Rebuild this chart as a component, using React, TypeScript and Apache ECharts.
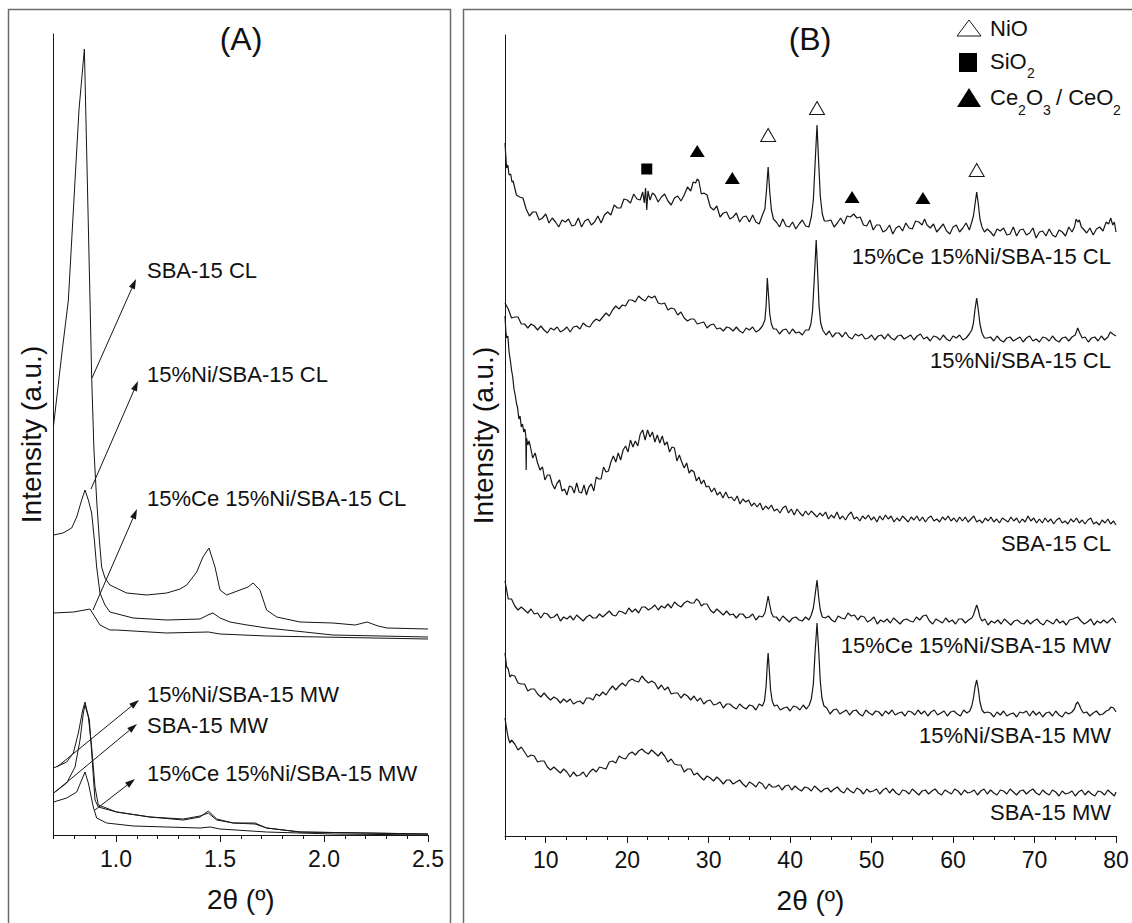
import React, { useEffect, useRef } from "react";
import * as echarts from "echarts";

const FONT = "'Liberation Sans', Arial, Helvetica, sans-serif";
const INK = "#161616";

// ---------- Panel (A): low-angle patterns, 2θ in degrees vs intensity (a.u.) ----------
const A_SBA15_CL: [number, number][] = [
  [0.7, 410], [0.72, 446], [0.74, 482], [0.76, 516], [0.771, 535], [0.797, 632], [0.822, 725],
  [0.848, 786], [0.875, 535], [0.883, 458], [0.894, 385], [0.907, 335], [0.92, 295], [0.931, 268],
  [0.947, 257], [0.971, 250], [1.051, 242], [1.148, 240], [1.244, 242], [1.308, 246], [1.34, 250],
  [1.388, 263], [1.418, 278], [1.447, 287], [1.476, 268], [1.5, 245], [1.532, 240], [1.596, 245],
  [1.635, 248], [1.659, 252], [1.692, 245], [1.724, 225], [1.773, 218], [1.885, 213], [2.043, 212],
  [2.15, 210], [2.207, 213], [2.26, 209], [2.303, 207], [2.5, 206],
];
const A_NI_CL: [number, number][] = [
  [0.7, 300], [0.745, 302], [0.787, 307], [0.811, 318], [0.835, 335], [0.851, 345], [0.867, 335],
  [0.883, 322], [0.896, 295], [0.907, 268], [0.923, 242], [0.947, 230], [0.971, 223], [1.082, 217],
  [1.246, 215], [1.404, 216], [1.442, 220], [1.466, 222], [1.5, 217], [1.548, 213], [1.63, 210],
  [1.726, 207], [2.043, 200], [2.5, 198],
];
const A_CE_NI_CL: [number, number][] = [
  [0.7, 222], [0.796, 223], [0.875, 226], [0.899, 218], [0.923, 210], [0.971, 205], [1.003, 205],
  [1.243, 202], [1.444, 203], [1.5, 201], [1.724, 199], [2.5, 196],
];
const A_NI_MW: [number, number][] = [
  [0.7, 67], [0.763, 73], [0.795, 82], [0.819, 102], [0.84, 125], [0.851, 133], [0.862, 123],
  [0.872, 115], [0.899, 35], [0.915, 28], [1.003, 23], [1.163, 18], [1.324, 15], [1.404, 18],
  [1.444, 24], [1.484, 16], [1.564, 12], [1.668, 12], [1.724, 7], [1.885, 3], [2.205, 2], [2.5, 1],
];
const A_SBA15_MW: [number, number][] = [
  [0.7, 42], [0.763, 52], [0.803, 68], [0.827, 95], [0.843, 122], [0.851, 130], [0.867, 118],
  [0.883, 88], [0.899, 48], [0.915, 30], [1.003, 23], [1.163, 18], [1.324, 16], [1.404, 19],
  [1.444, 22], [1.484, 15], [1.564, 12], [1.668, 11], [1.724, 7], [1.885, 3], [2.205, 2], [2.5, 1],
];
const A_CE_NI_MW: [number, number][] = [
  [0.7, 33], [0.763, 37], [0.811, 43], [0.835, 55], [0.851, 63], [0.867, 52], [0.891, 28],
  [0.907, 17], [0.955, 12], [1.083, 9], [1.243, 8], [1.404, 7], [1.452, 8], [1.5, 6], [1.724, 3],
  [2.045, 1], [2.5, 0],
];

// ---------- Panel (B): wide-angle patterns ----------
const B_CE_NI_CL: [number, number][] = [
  [5.0, 693], [5.1, 680], [5.2, 668], [5.35, 671], [5.5, 661], [5.7, 662], [5.85, 654], [6.0, 655], [6.4, 641], [6.8, 639],
  [7.2, 638], [7.6, 627], [8.0, 620], [8.4, 624], [8.8, 624], [9.2, 616], [9.6, 618], [10.0, 622], [10.4, 613], [10.8, 618],
  [11.2, 614], [11.6, 609], [12.0, 616], [12.4, 614], [12.8, 617], [13.2, 610], [13.6, 611], [14.0, 618], [14.4, 609], [14.8, 615],
  [15.2, 617], [15.6, 611], [16.0, 614], [16.4, 620], [16.8, 613], [17.2, 621], [17.6, 624], [18.0, 621], [18.4, 631], [18.8, 628],
  [19.2, 628], [19.6, 637], [20.0, 636], [20.4, 633], [20.8, 642], [21.2, 637], [21.6, 636], [21.9, 644], [22.1, 633], [22.25, 648],
  [22.4, 626], [22.55, 645], [22.8, 636], [23.1, 643], [23.4, 641], [23.8, 634], [24.2, 639], [24.6, 642], [25.0, 635], [25.4, 631],
  [25.8, 638], [26.2, 640], [26.6, 635], [27.0, 641], [27.4, 649], [27.8, 645], [28.1, 654], [28.4, 653], [28.6, 657], [28.8, 655],
  [29.1, 642], [29.4, 643], [29.8, 641], [30.2, 629], [30.6, 626], [31.0, 630], [31.4, 619], [31.8, 623], [32.2, 624], [32.6, 617],
  [33.0, 619], [33.4, 623], [33.8, 614], [34.2, 619], [34.6, 620], [35.0, 614], [35.4, 621], [35.8, 614], [36.2, 612], [36.6, 621],
  [36.9, 627], [37.1, 646], [37.3, 669], [37.5, 644], [37.7, 626], [37.95, 617], [38.3, 614], [38.7, 609], [39.1, 617], [39.5, 610],
  [39.9, 609], [40.3, 614], [40.7, 607], [41.1, 612], [41.5, 616], [41.9, 610], [42.3, 609], [42.6, 619], [42.85, 636], [43.05, 670],
  [43.3, 711], [43.5, 674], [43.7, 640], [43.95, 622], [44.2, 615], [44.6, 615], [45.0, 616], [45.4, 609], [45.8, 613], [46.2, 618],
  [46.6, 612], [47.0, 620], [47.4, 619], [47.8, 622], [48.2, 618], [48.6, 619], [49.0, 611], [49.4, 610], [49.8, 616], [50.2, 606],
  [50.6, 611], [51.0, 611], [51.4, 604], [51.8, 606], [52.2, 611], [52.6, 602], [53.0, 608], [53.4, 610], [53.8, 605], [54.2, 613],
  [54.6, 608], [55.0, 607], [55.4, 615], [55.8, 614], [56.2, 611], [56.5, 617], [56.8, 611], [57.2, 608], [57.6, 612], [58.0, 604],
  [58.4, 608], [58.8, 612], [59.2, 605], [59.6, 602], [60.0, 609], [60.4, 611], [60.8, 604], [61.2, 608], [61.6, 613], [62.0, 606],
  [62.3, 614], [62.5, 620], [62.7, 632], [62.9, 644], [63.1, 632], [63.3, 617], [63.55, 609], [63.85, 604], [64.2, 607], [64.6, 604],
  [65.0, 600], [65.4, 607], [65.8, 605], [66.2, 608], [66.6, 601], [67.0, 602], [67.4, 609], [67.8, 600], [68.2, 606], [68.6, 607],
  [69.0, 601], [69.4, 603], [69.8, 608], [70.2, 598], [70.6, 604], [71.0, 605], [71.4, 600], [71.8, 607], [72.2, 601], [72.6, 599],
  [73.0, 606], [73.4, 604], [73.8, 600], [74.2, 609], [74.6, 604], [74.9, 609], [75.1, 617], [75.3, 614], [75.5, 616], [75.75, 609],
  [76.0, 607], [76.4, 603], [76.8, 608], [77.2, 601], [77.6, 607], [78.0, 609], [78.4, 605], [78.8, 614], [79.1, 612], [79.35, 618],
  [79.6, 611], [79.8, 614], [80.0, 604],
];
const B_NI_CL: [number, number][] = [
  [5.0, 533], [5.4, 527], [5.8, 518], [6.2, 519], [6.6, 519], [7.0, 512], [7.4, 512], [7.8, 508], [8.2, 512], [8.6, 510],
  [9.0, 506], [9.4, 510], [9.8, 506], [10.2, 503], [10.6, 508], [11.0, 506], [11.4, 509], [11.8, 504], [12.2, 506], [12.6, 509],
  [13.0, 504], [13.4, 509], [13.8, 510], [14.2, 507], [14.6, 513], [15.0, 510], [15.4, 509], [15.8, 514], [16.2, 517], [16.6, 515],
  [17.0, 519], [17.4, 523], [17.8, 520], [18.2, 526], [18.6, 530], [19.0, 527], [19.4, 531], [19.8, 530], [20.2, 536], [20.6, 536],
  [21.0, 534], [21.4, 540], [21.8, 537], [22.2, 535], [22.6, 540], [23.0, 538], [23.4, 540], [23.8, 533], [24.2, 532], [24.6, 533],
  [25.0, 526], [25.4, 528], [25.8, 527], [26.2, 521], [26.6, 524], [27.0, 518], [27.4, 515], [27.8, 517], [28.2, 517], [28.6, 512],
  [29.0, 513], [29.4, 514], [29.8, 508], [30.2, 511], [30.6, 512], [31.0, 507], [31.4, 508], [31.8, 505], [32.2, 509], [32.6, 508],
  [33.0, 505], [33.4, 509], [33.8, 505], [34.2, 503], [34.6, 508], [35.0, 506], [35.4, 509], [35.8, 504], [36.2, 506], [36.6, 510],
  [36.9, 516], [37.05, 530], [37.2, 558], [37.35, 540], [37.5, 522], [37.7, 512], [37.95, 507], [38.3, 507], [38.7, 502], [39.1, 506],
  [39.5, 507], [39.9, 502], [40.3, 507], [40.7, 503], [41.1, 504], [41.5, 501], [41.9, 506], [42.3, 506], [42.55, 512], [42.75, 525],
  [42.95, 555], [43.2, 596], [43.4, 560], [43.55, 530], [43.75, 513], [44.0, 506], [44.4, 501], [44.8, 505], [45.2, 499], [45.6, 503],
  [46.0, 503], [46.4, 499], [46.8, 504], [47.2, 499], [47.6, 497], [48.0, 502], [48.4, 500], [48.8, 502], [49.2, 497], [49.6, 498],
  [50.0, 501], [50.4, 496], [50.8, 500], [51.2, 501], [51.6, 497], [52.0, 502], [52.4, 498], [52.8, 496], [53.2, 500], [53.6, 501],
  [54.0, 497], [54.4, 499], [54.8, 501], [55.2, 496], [55.6, 500], [56.0, 502], [56.4, 497], [56.8, 499], [57.2, 495], [57.6, 500],
  [58.0, 499], [58.4, 496], [58.8, 501], [59.2, 497], [59.6, 495], [60.0, 500], [60.4, 498], [60.8, 501], [61.2, 496], [61.6, 498],
  [62.0, 502], [62.3, 506], [62.5, 513], [62.7, 527], [62.9, 538], [63.1, 526], [63.3, 512], [63.55, 503], [63.85, 498], [64.2, 498],
  [64.6, 499], [65.0, 495], [65.4, 500], [65.8, 496], [66.2, 494], [66.6, 498], [67.0, 499], [67.4, 495], [67.8, 497], [68.2, 499],
  [68.6, 494], [69.0, 498], [69.4, 500], [69.8, 495], [70.2, 497], [70.6, 494], [71.0, 499], [71.4, 498], [71.8, 495], [72.2, 500],
  [72.6, 496], [73.0, 494], [73.4, 498], [73.8, 499], [74.2, 495], [74.6, 499], [75.0, 501], [75.3, 508], [75.55, 503], [75.85, 498],
  [76.2, 499], [76.6, 494], [77.0, 498], [77.4, 499], [77.8, 495], [78.2, 500], [78.6, 496], [79.0, 499], [79.3, 504], [79.6, 502],
  [80.0, 500],
];
const B_SBA15_CL: [number, number][] = [
  [5.0, 520], [5.1, 505], [5.2, 498], [5.35, 500], [5.5, 484], [5.65, 476], [5.8, 466], [5.95, 459], [6.1, 447], [6.25, 441],
  [6.4, 433], [6.55, 428], [6.7, 417], [6.85, 420], [7.0, 409], [7.15, 412], [7.3, 404], [7.45, 407], [7.55, 400], [7.6, 366],
  [7.65, 398], [7.8, 391], [7.95, 395], [8.1, 390], [8.4, 378], [8.7, 383], [9.0, 373], [9.3, 366], [9.6, 369], [9.9, 356],
  [10.2, 361], [10.5, 361], [10.8, 352], [11.1, 347], [11.4, 353], [11.7, 356], [12.0, 345], [12.3, 347], [12.6, 341], [12.9, 350],
  [13.2, 349], [13.5, 343], [13.8, 353], [14.1, 344], [14.4, 343], [14.7, 351], [15.0, 341], [15.3, 349], [15.6, 352], [15.9, 345],
  [16.2, 359], [16.5, 357], [16.8, 357], [17.1, 369], [17.4, 364], [17.7, 365], [18.0, 374], [18.3, 380], [18.6, 374], [18.9, 383],
  [19.2, 376], [19.5, 386], [19.8, 390], [20.1, 384], [20.4, 396], [20.7, 389], [21.0, 395], [21.3, 390], [21.6, 402], [21.9, 406],
  [22.2, 396], [22.5, 406], [22.8, 399], [23.1, 404], [23.4, 394], [23.7, 401], [24.0, 393], [24.3, 400], [24.6, 391], [24.9, 394],
  [25.2, 384], [25.5, 389], [25.8, 388], [26.1, 375], [26.4, 381], [26.7, 374], [27.0, 368], [27.3, 373], [27.6, 363], [27.9, 366],
  [28.2, 364], [28.5, 355], [28.8, 359], [29.1, 352], [29.4, 356], [29.7, 349], [30.0, 350], [30.35, 344], [30.7, 348], [31.05, 341],
  [31.4, 344], [31.75, 338], [32.1, 344], [32.45, 338], [32.8, 339], [33.15, 335], [33.5, 340], [33.85, 332], [34.2, 337], [34.55, 334],
  [34.9, 336], [35.25, 330], [35.6, 333], [35.95, 329], [36.3, 333], [36.65, 326], [37.0, 330], [37.35, 327], [37.7, 331], [38.05, 325],
  [38.4, 327], [38.75, 323], [39.1, 328], [39.45, 330], [39.8, 323], [40.15, 327], [40.5, 321], [40.85, 327], [41.2, 323], [41.55, 320],
  [41.9, 325], [42.25, 321], [42.6, 325], [42.95, 322], [43.3, 319], [43.65, 323], [44.0, 320], [44.35, 324], [44.7, 317], [45.05, 321],
  [45.4, 318], [45.75, 324], [46.1, 317], [46.45, 320], [46.8, 316], [47.15, 321], [47.5, 324], [47.85, 317], [48.2, 319], [48.55, 315],
  [48.9, 320], [49.25, 317], [49.6, 321], [49.95, 316], [50.3, 319], [50.65, 314], [51.0, 320], [51.35, 316], [51.7, 321], [52.05, 317],
  [52.4, 320], [52.75, 314], [53.1, 318], [53.45, 315], [53.8, 320], [54.15, 317], [54.5, 314], [54.85, 319], [55.2, 316], [55.55, 320],
  [55.9, 315], [56.25, 319], [56.6, 314], [56.95, 318], [57.3, 320], [57.65, 315], [58.0, 317], [58.35, 314], [58.7, 319], [59.05, 316],
  [59.4, 320], [59.75, 315], [60.1, 318], [60.45, 314], [60.8, 319], [61.15, 315], [61.5, 319], [61.85, 314], [62.2, 317], [62.55, 320],
  [62.9, 314], [63.25, 316], [63.6, 313], [63.95, 318], [64.3, 315], [64.65, 319], [65.0, 314], [65.35, 317], [65.7, 313], [66.05, 318],
  [66.4, 316], [66.75, 314], [67.1, 319], [67.45, 315], [67.8, 318], [68.15, 313], [68.5, 317], [68.85, 314], [69.2, 320], [69.55, 315],
  [69.9, 318], [70.25, 313], [70.6, 317], [70.95, 313], [71.3, 318], [71.65, 314], [72.0, 317], [72.35, 312], [72.7, 316], [73.05, 318],
  [73.4, 313], [73.75, 315], [74.1, 312], [74.45, 317], [74.8, 314], [75.15, 318], [75.5, 313], [75.85, 316], [76.2, 312], [76.55, 316],
  [76.9, 318], [77.25, 312], [77.6, 314], [77.95, 311], [78.3, 316], [78.65, 313], [79.0, 317], [79.35, 312], [79.7, 315], [80.0, 311],
];
const B_CE_NI_MW: [number, number][] = [
  [5.0, 255], [5.2, 246], [5.4, 237], [5.6, 237], [5.8, 237], [6.2, 230], [6.6, 226], [7.0, 229], [7.4, 226], [7.8, 223],
  [8.2, 227], [8.6, 222], [9.0, 223], [9.4, 218], [9.8, 223], [10.2, 222], [10.6, 218], [11.0, 219], [11.4, 222], [11.8, 215],
  [12.2, 219], [12.6, 217], [13.0, 220], [13.4, 216], [13.8, 221], [14.2, 218], [14.6, 215], [15.0, 219], [15.4, 221], [15.8, 218],
  [16.2, 218], [16.6, 222], [17.0, 219], [17.4, 222], [17.8, 225], [18.2, 221], [18.6, 220], [19.0, 225], [19.4, 224], [19.8, 222],
  [20.2, 228], [20.6, 224], [21.0, 227], [21.4, 223], [21.8, 229], [22.2, 229], [22.6, 226], [23.0, 228], [23.4, 231], [23.8, 226],
  [24.2, 230], [24.6, 228], [25.0, 232], [25.4, 228], [25.8, 234], [26.2, 231], [26.6, 229], [27.0, 233], [27.4, 235], [27.8, 233],
  [28.2, 233], [28.5, 237], [28.8, 235], [29.1, 230], [29.4, 232], [29.8, 232], [30.2, 226], [30.6, 223], [31.0, 227], [31.4, 224],
  [31.8, 221], [32.2, 225], [32.6, 221], [33.0, 222], [33.4, 218], [33.8, 222], [34.2, 222], [34.6, 218], [35.0, 219], [35.4, 222],
  [35.8, 216], [36.2, 220], [36.6, 219], [36.9, 223], [37.1, 231], [37.3, 240], [37.5, 231], [37.7, 223], [37.95, 219], [38.3, 219],
  [38.7, 215], [39.1, 220], [39.5, 217], [39.9, 214], [40.3, 218], [40.7, 219], [41.1, 216], [41.5, 215], [41.9, 219], [42.3, 216],
  [42.6, 221], [42.85, 228], [43.05, 240], [43.3, 256], [43.5, 239], [43.7, 226], [43.95, 219], [44.3, 218], [44.7, 220], [45.1, 216],
  [45.5, 214], [45.9, 220], [46.3, 218], [46.7, 217], [47.1, 223], [47.5, 220], [47.9, 221], [48.3, 216], [48.7, 220], [49.1, 219],
  [49.5, 214], [49.9, 216], [50.3, 219], [50.7, 212], [51.1, 216], [51.5, 214], [51.9, 217], [52.3, 213], [52.7, 218], [53.1, 215],
  [53.5, 212], [53.9, 216], [54.3, 217], [54.7, 215], [55.1, 214], [55.5, 219], [55.9, 216], [56.3, 220], [56.7, 221], [57.1, 215],
  [57.5, 212], [57.9, 217], [58.3, 215], [58.7, 213], [59.1, 218], [59.5, 214], [59.9, 216], [60.3, 212], [60.7, 217], [61.1, 217],
  [61.5, 213], [61.9, 216], [62.3, 218], [62.5, 221], [62.7, 226], [62.9, 231], [63.1, 226], [63.3, 219], [63.55, 215], [63.9, 217],
  [64.3, 211], [64.7, 215], [65.1, 213], [65.5, 216], [65.9, 212], [66.3, 217], [66.7, 214], [67.1, 211], [67.5, 215], [67.9, 216],
  [68.3, 213], [68.7, 212], [69.1, 216], [69.5, 212], [69.9, 215], [70.3, 217], [70.7, 213], [71.1, 211], [71.5, 216], [71.9, 214],
  [72.3, 212], [72.7, 217], [73.1, 213], [73.5, 215], [73.9, 211], [74.3, 216], [74.7, 217], [75.3, 219], [75.7, 215], [76.1, 212],
  [76.5, 214], [76.9, 217], [77.3, 211], [77.7, 215], [78.1, 213], [78.5, 216], [78.9, 213], [79.3, 216], [79.6, 218], [80.0, 213],
];
const B_NI_MW: [number, number][] = [
  [5.0, 183], [5.2, 169], [5.4, 167], [5.6, 159], [5.8, 161], [6.2, 160], [6.6, 153], [7.0, 152], [7.4, 152], [7.8, 145],
  [8.2, 147], [8.6, 147], [9.0, 142], [9.4, 139], [9.8, 143], [10.2, 139], [10.6, 136], [11.0, 139], [11.4, 137], [11.8, 133],
  [12.2, 137], [12.6, 134], [13.0, 137], [13.4, 132], [13.8, 134], [14.2, 135], [14.6, 132], [15.0, 138], [15.4, 138], [15.8, 136],
  [16.2, 142], [16.6, 140], [17.0, 144], [17.4, 141], [17.8, 146], [18.2, 150], [18.6, 146], [19.0, 150], [19.4, 153], [19.8, 150],
  [20.2, 155], [20.6, 157], [21.0, 155], [21.4, 154], [21.8, 160], [22.2, 156], [22.6, 153], [23.0, 155], [23.4, 153], [23.8, 147],
  [24.2, 151], [24.6, 146], [25.0, 149], [25.4, 142], [25.8, 143], [26.2, 143], [26.6, 138], [27.0, 142], [27.4, 140], [27.8, 136],
  [28.2, 140], [28.6, 135], [29.0, 138], [29.4, 132], [29.8, 135], [30.2, 136], [30.6, 131], [31.0, 132], [31.4, 134], [31.8, 128],
  [32.2, 132], [32.6, 132], [33.0, 129], [33.4, 127], [33.8, 132], [34.2, 129], [34.6, 127], [35.0, 131], [35.4, 130], [35.8, 126],
  [36.2, 132], [36.6, 130], [36.85, 135], [37.05, 150], [37.2, 172], [37.3, 183], [37.45, 165], [37.6, 146], [37.8, 135], [38.05, 130],
  [38.4, 131], [38.8, 126], [39.2, 128], [39.6, 129], [40.0, 125], [40.4, 130], [40.8, 129], [41.2, 126], [41.6, 131], [42.0, 127],
  [42.35, 131], [42.6, 137], [42.85, 152], [43.05, 182], [43.3, 213], [43.5, 186], [43.7, 155], [43.9, 138], [44.15, 130], [44.5, 128],
  [44.9, 122], [45.3, 126], [45.7, 127], [46.1, 122], [46.5, 124], [46.9, 126], [47.3, 121], [47.7, 125], [48.1, 126], [48.5, 122],
  [48.9, 120], [49.3, 126], [49.7, 123], [50.1, 121], [50.5, 125], [50.9, 124], [51.3, 120], [51.7, 125], [52.1, 122], [52.5, 126],
  [52.9, 121], [53.3, 123], [53.7, 124], [54.1, 120], [54.5, 125], [54.9, 124], [55.3, 121], [55.7, 126], [56.1, 122], [56.5, 125],
  [56.9, 120], [57.3, 124], [57.7, 126], [58.1, 121], [58.5, 123], [58.9, 125], [59.3, 120], [59.7, 124], [60.1, 125], [60.5, 122],
  [60.9, 120], [61.3, 126], [61.7, 123], [62.05, 125], [62.3, 130], [62.5, 138], [62.7, 149], [62.9, 156], [63.1, 147], [63.3, 134],
  [63.55, 126], [63.85, 123], [64.2, 124], [64.6, 123], [65.0, 119], [65.4, 124], [65.8, 121], [66.2, 125], [66.6, 120], [67.0, 122],
  [67.4, 123], [67.8, 119], [68.2, 124], [68.6, 123], [69.0, 125], [69.4, 120], [69.8, 125], [70.2, 121], [70.6, 124], [71.0, 119],
  [71.4, 123], [71.8, 124], [72.2, 120], [72.6, 125], [73.0, 121], [73.4, 119], [73.8, 124], [74.2, 122], [74.6, 124], [74.9, 127],
  [75.1, 132], [75.3, 134], [75.5, 131], [75.7, 127], [76.0, 123], [76.4, 124], [76.8, 120], [77.2, 123], [77.6, 125], [78.0, 121],
  [78.4, 122], [78.8, 125], [79.1, 126], [79.4, 129], [79.7, 128], [80.0, 124],
];
const B_SBA15_MW: [number, number][] = [
  [5.0, 118], [5.2, 107], [5.4, 98], [5.6, 93], [5.8, 96], [6.2, 92], [6.6, 86], [7.0, 89], [7.4, 84], [7.8, 79],
  [8.2, 81], [8.6, 80], [9.0, 74], [9.4, 75], [9.8, 75], [10.2, 69], [10.6, 66], [11.0, 69], [11.4, 66], [11.8, 63],
  [12.2, 67], [12.6, 64], [13.0, 59], [13.4, 64], [13.8, 60], [14.2, 61], [14.6, 64], [15.0, 59], [15.4, 64], [15.8, 67],
  [16.2, 64], [16.6, 69], [17.0, 68], [17.4, 67], [17.8, 74], [18.2, 75], [18.6, 73], [19.0, 80], [19.4, 78], [19.8, 77],
  [20.2, 82], [20.6, 84], [21.0, 81], [21.4, 85], [21.8, 87], [22.2, 84], [22.6, 82], [23.0, 86], [23.4, 83], [23.8, 80],
  [24.2, 84], [24.6, 80], [25.0, 74], [25.4, 77], [25.8, 72], [26.2, 71], [26.6, 71], [27.0, 64], [27.4, 67], [27.8, 67],
  [28.2, 61], [28.6, 63], [29.0, 59], [29.4, 56], [29.8, 60], [30.2, 58], [30.6, 55], [31.0, 59], [31.4, 56], [31.8, 52],
  [32.2, 56], [32.6, 56], [33.0, 52], [33.4, 54], [33.8, 56], [34.2, 52], [34.6, 49], [35.0, 54], [35.4, 52], [35.8, 49],
  [36.2, 54], [36.6, 52], [37.0, 47], [37.4, 52], [37.8, 49], [38.2, 49], [38.6, 51], [39.0, 46], [39.4, 50], [39.8, 51],
  [40.2, 46], [40.6, 50], [41.0, 47], [41.4, 45], [41.8, 49], [42.2, 48], [42.6, 45], [43.0, 50], [43.4, 47], [43.8, 44],
  [44.2, 47], [44.6, 48], [45.0, 44], [45.4, 47], [45.8, 49], [46.2, 45], [46.6, 43], [47.0, 48], [47.4, 45], [47.8, 43],
  [48.2, 48], [48.6, 46], [49.0, 42], [49.4, 47], [49.8, 44], [50.2, 45], [50.6, 47], [51.0, 42], [51.4, 46], [51.8, 48],
  [52.2, 43], [52.6, 47], [53.0, 43], [53.4, 41], [53.8, 46], [54.2, 45], [54.6, 42], [55.0, 47], [55.4, 44], [55.8, 41],
  [56.2, 45], [56.6, 46], [57.0, 42], [57.4, 45], [57.8, 47], [58.2, 43], [58.6, 41], [59.0, 46], [59.4, 44], [59.8, 42],
  [60.2, 47], [60.6, 45], [61.0, 41], [61.4, 46], [61.8, 43], [62.2, 44], [62.6, 46], [63.0, 41], [63.4, 45], [63.8, 47],
  [64.2, 42], [64.6, 46], [65.0, 43], [65.4, 41], [65.8, 46], [66.2, 45], [66.6, 42], [67.0, 47], [67.4, 44], [67.8, 41],
  [68.2, 45], [68.6, 46], [69.0, 42], [69.4, 45], [69.8, 47], [70.2, 43], [70.6, 41], [71.0, 46], [71.4, 43], [71.8, 41],
  [72.2, 46], [72.6, 44], [73.0, 40], [73.4, 45], [73.8, 42], [74.2, 43], [74.6, 45], [75.0, 40], [75.4, 44], [75.8, 46],
  [76.2, 41], [76.6, 45], [77.0, 42], [77.4, 40], [77.8, 45], [78.2, 44], [78.6, 41], [79.0, 46], [79.4, 43], [79.8, 40],
  [80.0, 44],
];

// Phase markers placed above the reflections of the Ce-containing CL sample
const NIO_MARKS: [number, number][] = [[37.3, 701], [43.3, 728], [62.9, 666]];
const SIO2_MARKS: [number, number][] = [[22.4, 667]];
const CEOX_MARKS: [number, number][] = [[28.6, 685], [32.9, 658], [47.6, 639], [56.3, 638]];

// Tick positions
const A_MAJOR = [1.0, 1.5, 2.0, 2.5];
const A_MINOR = [0.7, 0.8, 0.9, 1.1, 1.2, 1.3, 1.4, 1.6, 1.7, 1.8, 1.9, 2.1, 2.2, 2.3, 2.4];
const B_MAJOR = [10, 20, 30, 40, 50, 60, 70, 80];
const B_MINOR = [5, 7.5, 12.5, 15, 17.5, 22.5, 25, 27.5, 32.5, 35, 37.5, 42.5, 45, 47.5, 52.5, 55, 57.5, 62.5, 65, 67.5, 72.5, 75, 77.5];

// Sample names
const A_LABELS: { text: string; y: number }[] = [
  { text: "SBA-15 CL", y: 270 },
  { text: "15%Ni/SBA-15 CL", y: 374 },
  { text: "15%Ce 15%Ni/SBA-15 CL", y: 498 },
  { text: "15%Ni/SBA-15 MW", y: 694 },
  { text: "SBA-15 MW", y: 725 },
  { text: "15%Ce 15%Ni/SBA-15 MW", y: 773 },
];
const A_ARROWS: [number, number, number, number][] = [
  [92, 378, 136, 279],
  [91, 489, 138, 381],
  [93, 610, 137, 509],
  [57, 767, 139, 700],
  [55, 792, 137, 724],
  [95, 810, 135, 779],
];
const B_LABELS: { text: string; y: number }[] = [
  { text: "15%Ce 15%Ni/SBA-15 CL", y: 256 },
  { text: "15%Ni/SBA-15 CL", y: 360 },
  { text: "SBA-15 CL", y: 543 },
  { text: "15%Ce 15%Ni/SBA-15 MW", y: 645 },
  { text: "15%Ni/SBA-15 MW", y: 735 },
  { text: "SBA-15 MW", y: 812 },
];

function arrow(x1: number, y1: number, x2: number, y2: number) {
  const dx = x2 - x1;
  const dy = y2 - y1;
  const len = Math.sqrt(dx * dx + dy * dy);
  const ux = dx / len;
  const uy = dy / len;
  const hl = 10;
  const hw = 3.2;
  const bx = x2 - ux * hl;
  const by = y2 - uy * hl;
  return [
    {
      type: "line",
      silent: true,
      shape: { x1, y1, x2: bx, y2: by },
      style: { stroke: INK, lineWidth: 1 },
    },
    {
      type: "polygon",
      silent: true,
      shape: {
        points: [
          [x2, y2],
          [bx - uy * hw, by + ux * hw],
          [bx + uy * hw, by - ux * hw],
        ],
      },
      style: { fill: INK },
    },
  ];
}

function text(t: string, x: number, y: number, size: number, align = "left") {
  return {
    type: "text",
    silent: true,
    x,
    y,
    style: {
      text: t,
      fontSize: size,
      fontFamily: FONT,
      fill: "#111",
      align,
      verticalAlign: "middle",
    },
  };
}

function lineSeries(data: [number, number][], xi: number, yi: number, width: number) {
  return {
    type: "line",
    xAxisIndex: xi,
    yAxisIndex: yi,
    data,
    symbol: "none",
    silent: true,
    lineStyle: { color: INK, width },
  };
}

const tickAxis = (gridIndex: number, min: number, max: number, values: number[]) => ({
  gridIndex,
  type: "value",
  min,
  max,
  position: "bottom",
  axisLine: { show: false },
  axisTick: { show: true, customValues: values, length: 4, lineStyle: { color: INK, width: 1 } },
  axisLabel: { show: false },
  splitLine: { show: false },
});

const mainAxis = (
  gridIndex: number,
  min: number,
  max: number,
  values: number[],
  fmt: (v: number) => string
) => ({
  gridIndex,
  type: "value",
  min,
  max,
  position: "bottom",
  name: "2θ (º)",
  nameLocation: "middle",
  nameGap: 50,
  nameTextStyle: { fontSize: 28, fontFamily: FONT, color: "#111" },
  axisLine: { show: true, lineStyle: { color: INK, width: 1 } },
  axisTick: { show: true, customValues: values, length: 7, lineStyle: { color: INK, width: 1 } },
  axisLabel: {
    show: true,
    customValues: values,
    formatter: fmt,
    fontSize: 23,
    fontFamily: FONT,
    color: "#111",
    margin: 12,
  },
  splitLine: { show: false },
});

const yAxis = (gridIndex: number) => ({
  gridIndex,
  type: "value",
  min: 0,
  max: 801,
  name: "Intensity (a.u.)",
  nameLocation: "middle",
  nameGap: 8,
  nameTextStyle: { fontSize: 28, fontFamily: FONT, color: "#111" },
  axisLine: { show: true, lineStyle: { color: INK, width: 1 } },
  axisTick: { show: false },
  axisLabel: { show: false },
  splitLine: { show: false },
});

export default function App() {
  const ref = useRef<HTMLDivElement>(null);

  useEffect(() => {
    const chart = echarts.init(ref.current as HTMLDivElement, null, { renderer: "svg" });

    const graphic: any[] = [
      {
        type: "rect",
        silent: true,
        shape: { x: 8.5, y: 9.5, width: 442, height: 940 },
        style: { fill: "none", stroke: "#6b6b6b", lineWidth: 1.5 },
      },
      {
        type: "rect",
        silent: true,
        shape: { x: 463.5, y: 9.5, width: 700, height: 940 },
        style: { fill: "none", stroke: "#6b6b6b", lineWidth: 1.5 },
      },
      text("(A)", 241, 39, 32, "center"),
      text("(B)", 810, 39, 32, "center"),
    ];
    A_LABELS.forEach((l) => graphic.push(text(l.text, 147, l.y, 22)));
    A_ARROWS.forEach((a) => graphic.push(...arrow(a[0], a[1], a[2], a[3])));
    B_LABELS.forEach((l) => graphic.push(text(l.text, 1111, l.y, 22, "right")));

    // Phase key
    graphic.push(
      {
        type: "polygon",
        silent: true,
        shape: { points: [[957, 36], [969, 20], [981, 36]] },
        style: { fill: "#fff", stroke: INK, lineWidth: 1 },
      },
      text("NiO", 990, 28, 22),
      {
        type: "rect",
        silent: true,
        shape: { x: 959, y: 53, width: 18, height: 19 },
        style: { fill: "#000" },
      },
      text("SiO", 990, 61, 22),
      text("2", 1027, 73, 14),
      {
        type: "polygon",
        silent: true,
        shape: { points: [[957, 107], [969, 88], [981, 107]] },
        style: { fill: "#000" },
      },
      text("Ce", 990, 97, 22),
      text("2", 1018, 110, 14),
      text("O", 1026, 97, 22),
      text("3", 1043, 110, 14),
      text("/ CeO", 1056, 97, 22),
      text("2", 1113, 110, 14)
    );

    chart.setOption({
      animation: false,
      backgroundColor: "#fff",
      grid: [
        { left: 53.6, top: 34, width: 374.4, height: 801 },
        { left: 505, top: 35, width: 611, height: 801 },
      ],
      xAxis: [
        mainAxis(0, 0.7, 2.5, A_MAJOR, (v: number) => v.toFixed(1)),
        tickAxis(0, 0.7, 2.5, A_MINOR),
        mainAxis(1, 5, 80, B_MAJOR, (v: number) => String(Math.round(v))),
        tickAxis(1, 5, 80, B_MINOR),
      ],
      yAxis: [yAxis(0), yAxis(1)],
      series: [
        lineSeries(A_SBA15_CL, 0, 0, 1),
        lineSeries(A_NI_CL, 0, 0, 1),
        lineSeries(A_CE_NI_CL, 0, 0, 1),
        lineSeries(A_NI_MW, 0, 0, 1),
        lineSeries(A_SBA15_MW, 0, 0, 1),
        lineSeries(A_CE_NI_MW, 0, 0, 1),
        lineSeries(B_CE_NI_CL, 2, 1, 1.2),
        lineSeries(B_NI_CL, 2, 1, 1.2),
        lineSeries(B_SBA15_CL, 2, 1, 1.2),
        lineSeries(B_CE_NI_MW, 2, 1, 1.2),
        lineSeries(B_NI_MW, 2, 1, 1.2),
        lineSeries(B_SBA15_MW, 2, 1, 1.2),
        {
          type: "scatter",
          name: "NiO",
          xAxisIndex: 2,
          yAxisIndex: 1,
          data: NIO_MARKS,
          symbol: "triangle",
          symbolSize: [15, 13],
          silent: true,
          itemStyle: { color: "#fff", borderColor: INK, borderWidth: 1, opacity: 1 },
        },
        {
          type: "scatter",
          name: "SiO2",
          xAxisIndex: 2,
          yAxisIndex: 1,
          data: SIO2_MARKS,
          symbol: "rect",
          symbolSize: 11,
          silent: true,
          itemStyle: { color: "#000", opacity: 1 },
        },
        {
          type: "scatter",
          name: "Ce2O3 / CeO2",
          xAxisIndex: 2,
          yAxisIndex: 1,
          data: CEOX_MARKS,
          symbol: "triangle",
          symbolSize: [15, 12],
          silent: true,
          itemStyle: { color: "#000", opacity: 1 },
        },
      ],
      graphic,
    });

    return () => chart.dispose();
  }, []);

  return (
    <div
      ref={ref}
      style={{ position: "fixed", left: 0, top: 0, width: 1132, height: 923, background: "#fff" }}
    />
  );
}
